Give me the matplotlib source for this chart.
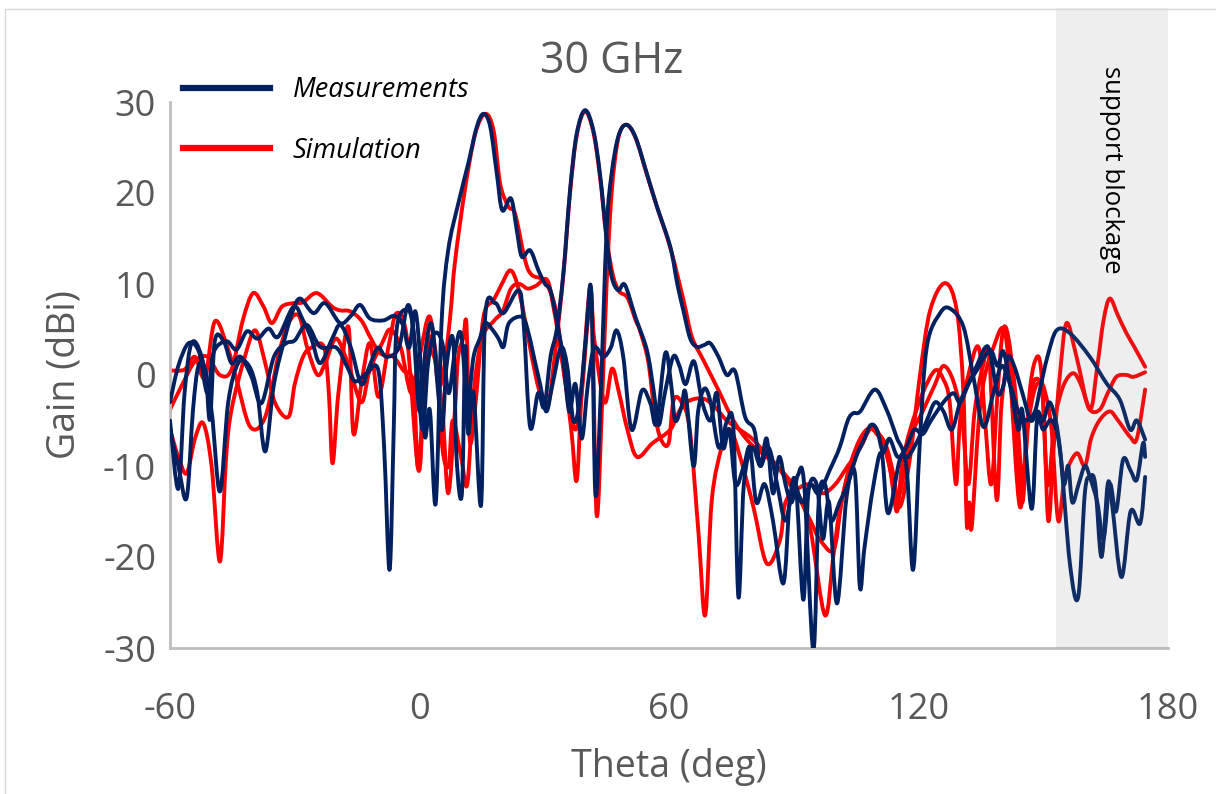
import matplotlib.pyplot as plt
import numpy as np
from matplotlib.patches import Rectangle, PathPatch
from matplotlib.path import Path
from matplotlib.lines import Line2D

plt.rcParams['font.family'] = ['Open Sans', 'DejaVu Sans']
plt.rcParams['axes.unicode_minus'] = False

# (theta deg, gain dBi)
meas_a = [(-60, -5), (-58, -12.5), (-56.5, -2), (-54.8, 3.5), (-52.4, 2), (-50, -4), (-48, -12.8), (-46, -3),
          (-43.6, 1.3), (-41, 1), (-39, -2), (-37.1, -8.4), (-35, -1), (-32.3, 4.2), (-30.5, 7), (-28.7, 8.4),
          (-25.5, 6.8), (-22.7, 7.9), (-19.1, 5.7), (-16.5, 6.5), (-14.3, 7.7), (-11.9, 6.2), (-8.7, 6), (-6, 6.5),
          (-4, 5.5), (-2.5, 3), (-1, 7), (0.3, 1), (1.3, -6.8), (2.5, -3.9), (3.9, -14.1), (5.3, 5.7), (6.9, 13.7),
          (9.3, 18.8), (11.7, 23.2), (13.8, 27.3), (15.4, 28.7), (17, 27.3), (18.6, 22.1), (19.9, 18.1), (22, 19.4),
          (23.4, 15.9), (24.6, 13), (26.6, 13.7), (28.6, 11.5), (30.2, 10), (31.5, 9.3), (33, 6), (34.5, 2),
          (36, -4), (37.5, -1), (39, -7), (40.5, -1), (42, 3), (44.2, 2), (46, 3), (47.4, 4.9), (49, 2), (51, -6),
          (53.5, -1.7), (55.5, -3.1), (57, -5.3), (59.1, 2.4), (60.5, -1), (61.5, -5), (63, -3.5), (64, -2),
          (65.9, -10), (67, -4), (68.5, -1.5), (70, -3), (72, -8), (74, -5), (75.5, -6), (76.7, -24.4), (78, -12),
          (80, -8), (82, -10), (84, -8), (86, -12), (88, -16), (90, -12), (92, -14), (94, -12), (96, -13),
          (98.7, -10.4), (101, -8), (103, -5), (104.3, -4.2), (106, -4), (109.5, -1.6), (112.3, -3.8),
          (114.7, -6.8), (117.1, -10.1), (118.7, -21.4), (120.3, -7.5), (122, 3.1), (125.2, 6.8), (127.6, 7.3),
          (130.8, 5.3), (133.2, -0.2), (135.6, -5.7), (138, -2), (140, 1), (142, -1), (144, -4), (146, -5),
          (148, -4), (149.2, -1.6), (151, 2), (153.2, 4.9), (156.4, 4.6), (161.2, 2), (165.2, -0.9), (168.4, -2.7),
          (170.9, -6), (172.5, -5), (174.5, -7.1)]

meas_b = [(-60, -6), (-58, -10), (-56, -13.5), (-54.5, -4), (-53.2, 0.9), (-51.5, 0.5), (-50.4, -4.9), (-49.2, 3.8),
          (-47, 3.6), (-45.2, 1.3), (-43, 2), (-40.4, -0.2), (-38, -3.1), (-35, 2), (-32, 3.5), (-30, 3.8),
          (-27.1, 5.5), (-23.9, 3.1), (-20, 3), (-17.5, 1), (-15.5, -0.7), (-12.7, 0.2), (-9.9, 0.5), (-8.5, -8),
          (-7.2, -21.4), (-6.2, -6), (-5.5, 5), (-3, 7.2), (-1.5, 5), (0, -4), (1.5, 3), (3, 5.5), (4.5, -2),
          (5.5, -6), (6.5, 1), (8.1, 3.8), (8.9, -9), (10.2, -13), (11, 3.1), (11.7, -6.4), (13, -2), (14.8, -14.3),
          (15.8, 6.4), (18.2, 7.9), (20.2, 6.8), (23.8, 9.3), (25, 6), (26.6, -5.7), (28.5, -2), (30, -3.5),
          (31.5, 2), (33, 5), (34.6, 11.2), (36.2, 20.3), (37.8, 26.5), (39.8, 29.1), (41.8, 26.9), (43.4, 22.1),
          (45, 15), (46.2, 10.8), (47.8, 9.3), (49.4, 9.9), (51.9, 6.4), (54.7, 2.7), (56.3, -1.7), (57.5, -5.5),
          (59, -2), (61, 2), (62.5, 1), (64, -1), (66, 1.5), (68, -3), (70, -5), (71.5, -2), (73, -8), (74.5, -6),
          (76, -12), (78, -10), (79.5, -8), (81, -14), (83, -12), (85, -16), (87.5, -22.9), (89, -14), (90.5, -12),
          (92.3, -24.7), (93.5, -13), (95.5, -12), (97, -18), (98.5, -14), (100.4, -25.1), (102.7, -13.4),
          (104.7, -10.8), (105.9, -23.3), (107, -19), (109.1, -12.3), (111.1, -8.6), (112.7, -15.2), (115.5, -9.3),
          (117.5, -9), (120, -7), (122, -5), (124, -3), (126, -4), (128, -6), (130, -3), (132, -1), (134, 0.5),
          (137.2, 2.7), (139, 1), (140.4, 2.6), (142, -1), (144, -6), (145, -4), (147.2, -14.7), (148.5, -5),
          (150, -6), (152, -5), (154, -8.2), (156.4, -20.7), (158.4, -24.4), (160, -13), (161.2, -11.2),
          (162.5, -12), (164, -20), (165.5, -12), (166.5, -14), (168.8, -22.2), (171, -15), (173.3, -16.3),
          (174.5, -11.2)]

meas_c = [(-60, -3), (-58, 1), (-55.5, 3.5), (-53, 2.5), (-51, -2), (-49.5, 2.5), (-46.4, 3.7), (-44, 2.8),
          (-41.5, 4.8), (-39, 4), (-36.3, 5.1), (-34, 4.2), (-30.3, 7.5), (-28, 6), (-26, 4), (-23.9, 1.3), (-21, 4),
          (-19, 5.5), (-16.5, 3), (-14, -1), (-12, 1), (-10, 3), (-8, 2), (-5, 3), (-2.7, 7.7), (-1, 3), (0.7, -6),
          (2, 1), (3.5, 4.5), (5.5, 3.5), (7, -2), (8.5, 2.5), (10, 4.5), (11.5, -3), (13, 2), (14.5, 4),
          (15.8, 5.7), (17.5, 5), (19, 4), (20.2, 3.1), (21.5, 5.7), (24.6, 6.4), (26, 5), (27.5, 2), (29, -1),
          (30.5, -4), (32, -1), (34, 3), (35.5, 1), (37, -5), (38.5, -3), (40, 4), (41.3, 9.2), (42.3, -13),
          (43.5, -3), (45, 15.9), (46.2, 22.1), (47.8, 26.2), (49.7, 27.5), (51.9, 26.2), (54.7, 22.1),
          (57.1, 18.5), (60.3, 14.1), (62, 10), (63.5, 7), (65.1, 4), (66.7, 3.1), (68.5, 3.3), (69.9, 3.5),
          (71.9, 2), (73.9, 0), (75.9, 0.4), (78.3, -4.6), (80.5, -6), (82, -10), (83.5, -7), (85, -13), (86.5, -9),
          (88, -12), (89.5, -14), (91, -11), (92.5, -12), (94.7, -30.2), (96, -14), (97.5, -12), (99, -16),
          (101, -14), (103, -12), (105, -9), (107, -7), (108.5, -5.5), (110, -6), (111.5, -8.5), (113, -7),
          (115, -9), (117, -8), (119, -6), (121, -6.5), (123, -5), (126, -3), (128.4, -2), (130, -3), (132, -1),
          (134, 1), (136, 3), (137.2, 2.5), (139, -2), (140.5, -1), (141.5, 2), (143, 1), (145, -2), (147, -5),
          (148.7, -4), (150, -5), (151.5, -3), (153, -5), (154, -8), (155, -12), (156, -10), (157, -14),
          (158.5, -12), (160, -10), (161.2, -11.2), (163, -14), (164.5, -18), (166, -12), (167.5, -15),
          (169.2, -9.3), (171, -10.5), (172.5, -11.5), (174, -7.5), (174.5, -9)]

sim_a = [(-60, 0.5), (-56.5, 0.6), (-54, 2), (-51.6, -0.3), (-49.2, 5.9), (-46, 2.8), (-44, -0.5), (-40.7, -5.7),
         (-37.1, -4.6), (-34, 2), (-31.5, 5.7), (-29, 6.5), (-27, 3), (-24.5, 0), (-22.5, 1.5), (-20, 4), (-17, 1),
         (-14, -3), (-12, 0.5), (-9, 3.5), (-7, 5), (-4.5, 3), (-2, -2), (0, 2), (2.5, 6.4), (4.5, -1), (6, 1),
         (7.5, 7), (8.5, 12.3), (10.9, 20.3), (13.4, 26.5), (15.8, 28.7), (17.8, 26.9), (19.4, 21), (21.4, 18.5),
         (23, 17.7), (25.4, 12.6), (27, 11), (30, 10.3), (32.6, 7.5), (34.6, 0.9), (36.5, -6), (37.8, -11.6),
         (39, -2), (41, 9.5), (42, 4), (44.5, -3), (46.3, 0.7), (48, -2), (50, -6), (52.3, -9), (56, -7.5),
         (60.3, -6), (62.7, -3.8), (65, -2.8), (68.3, -2.6), (71, -3.5), (73.9, -5), (77, -6), (80, -7), (83, -8.5),
         (86, -10), (89, -12), (91.5, -13.7), (94, -16), (96.3, -18.1), (99.6, -19.2), (101.5, -14), (103.5, -10.1),
         (106, -7), (108.3, -5.9), (110.5, -6.5), (112.3, -7.9), (114, -11), (115.5, -14.5), (117.9, -9.3),
         (120.3, -0.2), (122.8, 7.1), (126.4, 10.1), (129.2, 7.1), (130.8, -2), (131.6, -16.3), (132.2, -14),
         (132.8, -16.7), (134.5, -5), (136, 0), (138, 3), (140.4, 5.1), (142, 0), (144.4, -14.5), (146.5, -5),
         (148.5, -1), (150, -3), (151.2, -16), (152.5, -8), (154, 0), (155.6, 5.7), (158, 2), (161.2, -3.8),
         (163, 1), (164.5, 6), (166, 8.4), (168, 6.5), (170, 4.6), (172, 3), (174.5, 0.9)]

sim_b = [(-60, -3.8), (-57, -1), (-54, 1.5), (-51, 2), (-48, 0), (-45.2, 0.6), (-42.5, 6), (-40, 9), (-37.5, 7.5),
         (-35.5, 5.7), (-33.1, 7.5), (-30.3, 7.9), (-28, 8), (-24.7, 9), (-21, 7.5), (-19.1, 7.1), (-16.7, 7),
         (-14, 6), (-11.9, 4.2), (-9.5, 2.4), (-6.3, 2), (-3.9, 0.5), (-1.5, -0.9), (-0.3, -10.1), (1.5, 1),
         (3.5, 2), (5.5, -4), (6.9, -13), (8.5, -4), (9.3, 2), (10.5, 4), (11.3, 5.5), (12.1, -7.2), (13.5, -3),
         (15.4, 6.4), (17.8, 8.2), (19.8, 10), (21.8, 11.5), (23.5, 10), (25.4, 6), (27, 2), (29, -2), (31, -3),
         (32.5, 2), (34.6, 11), (36.2, 20), (37.8, 26.3), (39.8, 29), (41.8, 26.7), (43.4, 21.8), (45, 15),
         (46.5, 11), (48, 9.2), (50, 8.5), (52, 6), (53, 4.9), (55, 1.5), (56.5, -4), (58, -7), (59.9, -7.5),
         (61.1, -2.8), (63, -3), (65, -6), (67.1, -17.4), (68.7, -26.4), (70.3, -13.7), (72.7, -7.9), (74.7, -6),
         (77.1, -9), (80.3, -14.5), (83.5, -20.7), (86.7, -18.1), (88, -14), (91, -12.5), (94, -12), (97, -13),
         (100, -12), (103, -10), (106, -8), (108.3, -6), (110, -6.5), (112, -8), (114, -12), (115.5, -13),
         (118, -7), (121, -4), (124, -1), (126, 1), (128.4, -0.7), (130.5, -5), (132, -12), (133.5, -4),
         (135.5, 1), (137, 2), (138.8, -13.7), (140, -3), (142, 2), (143.5, -3), (145, -12), (146, -6),
         (147.5, -1), (149.2, -0.6), (150.5, -2), (152, -6), (153.6, -16), (155.2, -11.2), (158, -8.6),
         (160, -10), (161.5, -7), (163.5, -5), (166, -4), (168, -5), (170.9, -6.8), (172.5, -7), (174.5, -1.6)]

sim_c = [(-60, -6), (-58, -9), (-56, -10.8), (-54, -7), (-52, -5.3), (-50, -10), (-48, -20.5), (-46.5, -9),
         (-45.2, -3.8), (-42, 2), (-39.5, 4.9), (-37.1, 1.3), (-34.7, -3.1), (-31.5, -4.6), (-30, -1), (-28, 2),
         (-26, 3), (-23, 3.1), (-21.8, -2), (-20.9, -9.7), (-19.5, -2), (-17.1, 5.3), (-15.9, -6.4), (-14, -1),
         (-11.9, 3.5), (-9.9, -2.4), (-7.5, 3), (-5.5, 6.8), (-3, 4), (-0.3, -10.4), (1, -3), (2.5, 4), (4, 2),
         (5.5, -8), (7, -10), (8, -5), (10, -9), (11.5, -12), (13, -2), (15, 4), (18, 6), (20, 7), (22, 9.5),
         (24, 10), (26, 9.5), (28, 9.8), (30.6, 10.5), (32, 8), (33.5, 4), (35.5, -2), (37.5, -6), (39, -2),
         (40.5, 6), (41.5, 7), (42.6, -15.4), (44, -2), (45, 10), (46.2, 20), (47.8, 26), (49.7, 27.5), (52, 26),
         (54.7, 22), (57.1, 18.5), (60.3, 14), (63.5, 8.2), (65.5, 4.2), (68.3, 1.6), (71.5, -1.3), (75.5, -5),
         (79.5, -7.5), (84.3, -9.3), (88, -11), (91, -13), (94, -17), (97.5, -26.4), (99.5, -20), (101, -15),
         (103.5, -10), (106, -7), (108.3, -5.8), (110.5, -6.5), (113, -10), (114.8, -15), (116, -10), (118, -6),
         (121, -2), (124, 0.5), (126, -0.5), (127.5, -3), (129, -12), (130, -5), (132, 0), (134.5, 3), (136, -5),
         (137.5, -12), (139, -2), (140.4, 5.1), (142, 3), (143.5, -5), (145, -14), (146.5, -3), (148, 1.5),
         (149.5, 0.5), (151, -12), (152.5, -6), (153.2, -3.8), (155, -1), (157.2, 0.2), (159, -1), (161.2, -3.8),
         (163.6, -3.8), (165.5, -2), (167.6, -0.2), (170, 0), (171.7, -0.2), (174.5, 0.3)]

x_ticks = [-60, 0, 60, 120, 180]
y_ticks = [-30, -20, -10, 0, 10, 20, 30]
blockage = (153, 180)

navy = '#002060'
red = '#ff0000'
gray_txt = '#595959'


def smooth_path(points):
    # smoothed line like the spreadsheet draws it: catmull-rom through the points
    p = np.array(points, dtype=float)
    ext = np.vstack([p[0], p, p[-1]])
    verts = [p[0]]
    codes = [Path.MOVETO]
    for i in range(1, len(ext) - 2):
        c1 = ext[i] + (ext[i + 1] - ext[i - 1]) / 6
        c2 = ext[i + 1] - (ext[i + 2] - ext[i]) / 6
        verts += [c1, c2, ext[i + 1]]
        codes += [Path.CURVE4] * 3
    return Path(verts, codes)


fig = plt.figure(figsize=(12.16, 7.94), dpi=100)
ax = fig.add_axes([170 / 1216, 1 - 648 / 794, (1168 - 170) / 1216, (648 - 102) / 794])

for curve in [sim_a, sim_b, sim_c]:
    ax.add_patch(PathPatch(smooth_path(curve), fill=False, edgecolor=red, lw=2.8,
                           joinstyle='round', capstyle='round', zorder=2))
for curve in [meas_a, meas_b, meas_c]:
    ax.add_patch(PathPatch(smooth_path(curve), fill=False, edgecolor=navy, lw=2.8,
                           joinstyle='round', capstyle='round', zorder=3))

ax.set_xlim(-60, 180)
ax.set_ylim(-30, 30)
ax.set_xticks(x_ticks)
ax.set_yticks(y_ticks)
ax.tick_params(length=0, labelsize=26, labelcolor=gray_txt)
ax.tick_params(axis='x', pad=32)
ax.tick_params(axis='y', pad=10)
for s in ['top', 'right']:
    ax.spines[s].set_visible(False)
for s in ['left', 'bottom']:
    ax.spines[s].set_color('#bfbfbf')
    ax.spines[s].set_linewidth(2)

ax.set_xlabel('Theta (deg)', fontsize=27, color=gray_txt, labelpad=14)
ax.set_ylabel('Gain (dBi)', fontsize=27, color=gray_txt, labelpad=14)
fig.text(612 / 1216, 1 - 62 / 794, '30 GHz', fontsize=31, color=gray_txt, ha='center', va='center')

# support blockage band (sits over the traces, semi transparent)
top = 30 + (102 - 8) / 9.1
ax.add_patch(Rectangle((blockage[0], -30), blockage[1] - blockage[0], top + 30,
                       facecolor='#808080', alpha=0.13, edgecolor='none', clip_on=False, zorder=4))
ax.text(166.5, 22.5, 'support blockage', rotation=-90, fontsize=18.5, color='black',
        ha='center', va='center', zorder=5)

handles = [Line2D([], [], color=navy, lw=4.5), Line2D([], [], color=red, lw=4.5)]
ax.legend(handles, ['Measurements', 'Simulation'], loc='upper left',
          bbox_to_anchor=(183 / 1216, 1 - 76 / 794), bbox_transform=fig.transFigure,
          frameon=False, prop={'style': 'italic', 'size': 19.5}, handlelength=3.2,
          handletextpad=0.85, labelspacing=1.2, borderpad=0, borderaxespad=0)

# faint outer frame of the chart area
fig.add_artist(Line2D([5 / 1216, 1], [1 - 9 / 794] * 2, color='#d9d9d9', lw=1))
fig.add_artist(Line2D([5 / 1216] * 2, [0, 1 - 9 / 794], color='#d9d9d9', lw=1))

fig.savefig('out.png', dpi=100)
